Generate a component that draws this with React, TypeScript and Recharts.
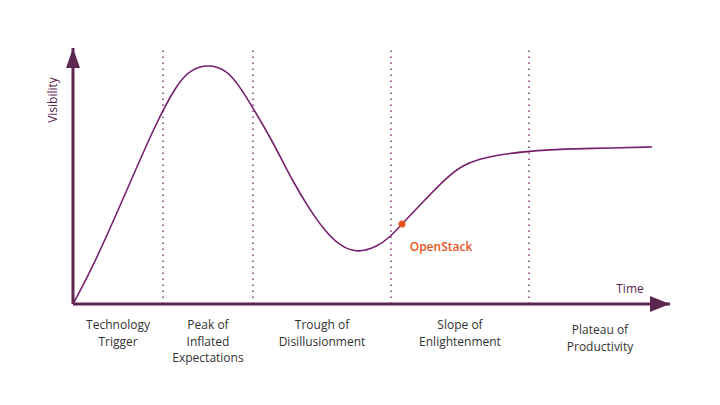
import React from "react";
import { LineChart, Line, XAxis, YAxis, ReferenceLine, ReferenceDot } from "recharts";

// hype curve (t = time, v = visibility)
const curveT = [0, 20, 54, 82, 104, 117, 135, 154, 167, 180, 200, 220, 237, 252, 267, 284, 304, 317, 329, 347, 374, 390, 407, 424, 456, 490, 540, 579];
const curveV = [0, 37, 114, 179, 220, 234, 240, 234, 217, 196, 162, 122, 94, 73, 58, 51, 57, 67, 80, 99, 127, 139, 145, 149, 153, 155, 156, 157];

const phaseBounds = [90, 180, 318, 456];
const phaseCenters = [45, 135, 249, 387, 527];
const phaseLabels = [
  ["Technology", "Trigger"],
  ["Peak of", "Inflated", "Expectations"],
  ["Trough of", "Disillusionment"],
  ["Slope of", "Enlightenment"],
  ["Plateau of", "Productivity"],
];

const marker = { name: "OpenStack", t: 329, v: 80 };

const data = curveT.map((t, i) => ({ t, v: curveV[i] }));

const AXIS = "#5e2750";
const CURVE = "#77216f";
const DOTS = "#9c6a95";
const ORANGE = "#e95420";
const FONT = "'Open Sans', 'Noto Sans', sans-serif";

function PhaseTick(props: any) {
  const { x, y, payload } = props;
  const idx = phaseCenters.indexOf(payload.value);
  const lines = phaseLabels[idx] ?? [];
  const shift = idx === 4 ? 5 : 0;
  return (
    <text x={x} y={y + 17 + shift} textAnchor="middle" fill="#333" fontSize={12} fontFamily={FONT}>
      {lines.map((l, i) => (
        <tspan key={i} x={x} dy={i === 0 ? 0 : 16.5}>
          {l}
        </tspan>
      ))}
    </text>
  );
}

export default function App() {
  return (
    <div style={{ position: "absolute", left: 0, top: 0, width: 720, height: 405, background: "#fff" }}>
      <LineChart width={720} height={405} data={data} margin={{ top: 48, right: 50, left: 73, bottom: 0 }}>
        <XAxis
          dataKey="t"
          type="number"
          domain={[0, 597]}
          ticks={phaseCenters}
          interval={0}
          tickLine={false}
          axisLine={{ stroke: AXIS, strokeWidth: 3 }}
          tick={<PhaseTick />}
          height={101}
        />
        <YAxis hide type="number" domain={[0, 256]} width={0} />
        {phaseBounds.map((b) => (
          <ReferenceLine key={b} x={b} stroke={DOTS} strokeWidth={2} strokeDasharray="1.6 4.4" />
        ))}
        <ReferenceLine x={0} stroke={AXIS} strokeWidth={3} />
        <ReferenceDot
          x={0}
          y={256}
          r={0}
          ifOverflow="visible"
          shape={(p: any) => (
            <path d={`M${p.cx},${p.cy} L${p.cx + 7},${p.cy + 20} L${p.cx - 7},${p.cy + 20} Z`} fill={AXIS} />
          )}
        />
        <ReferenceDot
          x={597}
          y={0}
          r={0}
          ifOverflow="visible"
          shape={(p: any) => (
            <path d={`M${p.cx},${p.cy} L${p.cx - 20},${p.cy - 8} L${p.cx - 20},${p.cy + 8} Z`} fill={AXIS} />
          )}
        />
        <ReferenceDot
          x={-21}
          y={204}
          r={0}
          ifOverflow="visible"
          shape={(p: any) => (
            <text
              x={p.cx}
              y={p.cy}
              transform={`rotate(-90 ${p.cx} ${p.cy})`}
              textAnchor="middle"
              dominantBaseline="central"
              fill={AXIS}
              fontSize={12}
              fontFamily={FONT}
            >
              Visibility
            </text>
          )}
        />
        <ReferenceDot
          x={557}
          y={16}
          r={0}
          ifOverflow="visible"
          shape={(p: any) => (
            <text x={p.cx} y={p.cy} textAnchor="middle" dominantBaseline="central" fill={AXIS} fontSize={12} fontFamily={FONT}>
              Time
            </text>
          )}
        />
        <Line
          type="basis"
          dataKey="v"
          stroke={CURVE}
          strokeWidth={1.6}
          dot={false}
          activeDot={false}
          isAnimationActive={false}
        />
        <ReferenceDot x={marker.t} y={marker.v} r={3.5} fill={ORANGE} stroke="none" ifOverflow="visible" />
        <ReferenceDot
          x={368}
          y={58}
          r={0}
          ifOverflow="visible"
          shape={(p: any) => (
            <text x={p.cx} y={p.cy} textAnchor="middle" dominantBaseline="central" fill={ORANGE} fontSize={12} fontWeight={600} fontFamily={FONT}>
              {marker.name}
            </text>
          )}
        />
      </LineChart>
    </div>
  );
}
